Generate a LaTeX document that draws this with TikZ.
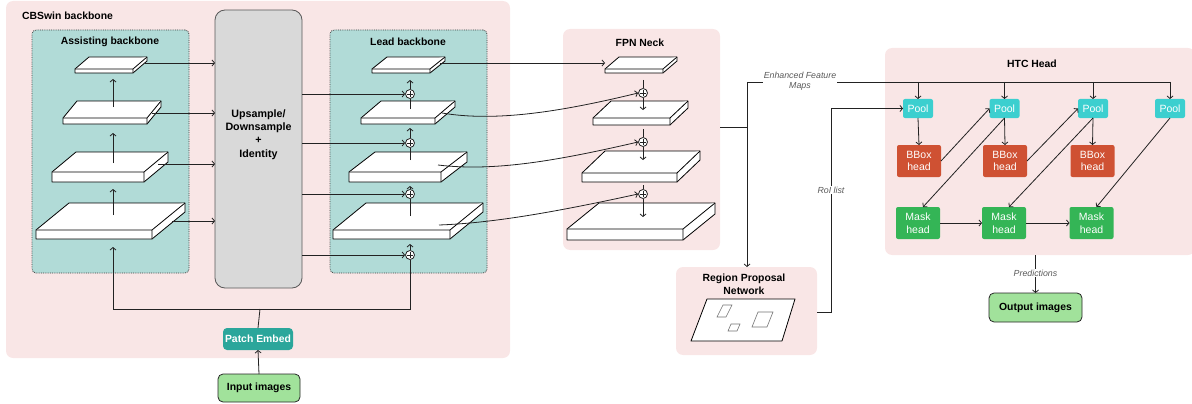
\documentclass[tikz,border=0pt]{standalone}
\usepackage{fontspec}
\setmainfont{Liberation Sans}
\usetikzlibrary{arrows.meta}
\definecolor{pinkbg}{HTML}{F9E6E6}
\definecolor{tealbg}{HTML}{B1DBD7}
\definecolor{graybg}{HTML}{D9D9D9}
\definecolor{patchc}{HTML}{2BA69B}
\definecolor{greenbg}{HTML}{A1E29B}
\definecolor{poolc}{HTML}{3CCFCF}
\definecolor{bboxc}{HTML}{CF5133}
\definecolor{maskc}{HTML}{34B556}
\definecolor{linec}{HTML}{222222}
\newcommand{\drawslab}[6]{%
  \filldraw[slab] (#1,#3) -- ({#1+#5},{#3-#6}) -- ({#2+#5},{#3-#6}) -- ({#2+#5},{#3-#6+#4}) -- (#2,{#3+#4}) -- (#1,{#3+#4}) -- cycle;
  \draw[slab] (#1,#3) -- (#2,#3) -- ({#2+#5},{#3-#6}) (#2,#3) -- (#2,{#3+#4});
}
\tikzset{
  slab/.style={fill=white, draw=black, line width=0.8pt, line join=round},
  ttl/.style={font=\fontsize{10.4}{12.7}\selectfont\bfseries, inner sep=0pt, align=center},
  conn/.style={draw=linec, line width=0.8pt},
  arr/.style={conn, -{Straight Barb[length=2.5pt,width=6pt]}},
  pinkbox/.style={fill=pinkbg, rounded corners=7pt, inner sep=0pt, outer sep=0pt},
  tealbox/.style={fill=tealbg, draw=black!75, densely dotted, line width=0.8pt, rounded corners=4pt, inner sep=0pt, outer sep=0pt},
  upsbox/.style={fill=graybg, draw=black!65, line width=0.8pt, rounded corners=10pt, inner sep=0pt, outer sep=0pt},
  patchbox/.style={fill=patchc, rounded corners=4pt, inner sep=0pt, outer sep=0pt, text=white, font=\fontsize{10.4}{12}\selectfont\bfseries},
  iobox/.style={fill=greenbg, draw=black!85, line width=0.8pt, rounded corners=5pt, inner sep=0pt, outer sep=0pt, font=\fontsize{10.4}{12}\selectfont\bfseries},
  poolbox/.style={fill=poolc, rounded corners=2pt, inner sep=0pt, outer sep=0pt, minimum width=30pt, minimum height=19pt, text=white, font=\fontsize{10.5}{12}\selectfont},
  headbox/.style={rounded corners=2pt, inner sep=0pt, outer sep=0pt, minimum width=44pt, minimum height=32pt, text=white, align=center, font=\fontsize{10.5}{12.7}\selectfont},
  plusc/.style={circle, draw=linec, fill=white, line width=0.8pt, minimum size=9pt, inner sep=0pt,
    path picture={\draw[line width=0.7pt] ([xshift=-2.6pt]path picture bounding box.center) -- ([xshift=2.6pt]path picture bounding box.center)
      ([yshift=-2.6pt]path picture bounding box.center) -- ([yshift=2.6pt]path picture bounding box.center);}},
  itl/.style={font=\fontsize{8.8}{10}\selectfont\itshape, text=black!65, fill=white, inner sep=1pt, align=center}
}
\begin{document}
\begin{tikzpicture}[x=1pt,y=-1pt]
\useasboundingbox (0,0) rectangle (1192,404);
% containers
\node[pinkbox, minimum width=504pt, minimum height=357pt] (cbs) at (258,179.5) {};
\node[ttl, anchor=west] (cbst) at (22,16) {CBSwin backbone};
\node[tealbox, minimum width=157pt, minimum height=243pt] (assist) at (110.5,151.5) {};
\node[ttl] (assistt) at (110,42) {Assisting backbone};
\node[upsbox, minimum width=87pt, minimum height=278pt] (ups) at (258.5,149) {};
\node[ttl, font=\fontsize{10.7}{13.2}\selectfont\bfseries] (upst) at (258.5,134.5) {Upsample/\\Downsample\\+\\Identity};
\node[tealbox, minimum width=157pt, minimum height=243pt] (lead) at (408.5,151.5) {};
\node[ttl] (leadt) at (408,42) {Lead backbone};
\node[patchbox, minimum width=70pt, minimum height=22pt] (patch) at (258,339) {Patch Embed};
\node[iobox, minimum width=82pt, minimum height=28pt] (input) at (259,388) {Input images};
\node[pinkbox, minimum width=157pt, minimum height=221pt] (fpn) at (641.5,139.5) {};
\node[ttl] (fpnt) at (640,43) {FPN Neck};
\node[pinkbox, minimum width=141pt, minimum height=88pt] (rpn) at (746.5,311) {};
\node[ttl] (rpnt) at (744,284) {Region Proposal\\Network};
\node[pinkbox, minimum width=310pt, minimum height=207pt] (htc) at (1040,151.5) {};
\node[ttl] (htct) at (1032,64) {HTC Head};
% slabs assisting
\drawslab{75}{133}{69}{4}{14}{12}
\drawslab{63}{147}{118}{6}{14}{17}
\drawslab{52}{144}{172}{10}{24}{20}
\drawslab{36}{152}{230}{9}{33}{27}
% slabs lead
\drawslab{372}{430}{69}{4}{15}{12}
\drawslab{361}{435}{118}{6}{20}{17}
\drawslab{349}{441}{172}{10}{26}{20}
\drawslab{333}{450}{230}{9}{33}{27}
% slabs fpn
\drawslab{605}{663}{69}{4}{14}{12}
\drawslab{593}{670}{118}{7}{18}{17}
\drawslab{582}{677}{173}{9}{23}{22}
\drawslab{567}{683}{229}{11}{32}{26}
% coordinates
\coordinate (a1r) at (145,63);
\coordinate (a2r) at (152,113);
\coordinate (a3r) at (158,164);
\coordinate (a4r) at (172,221);
\coordinate (a1b) at (113,79);
\coordinate (a2c) at (113,107);
\coordinate (a2b) at (113,133);
\coordinate (a3c) at (113,163);
\coordinate (a3b) at (113,189);
\coordinate (a4c) at (113,215);
\coordinate (a4b) at (113,247);
\coordinate (l1b) at (410,80);
\coordinate (l2c) at (410,109);
\coordinate (l2b) at (410,128);
\coordinate (l3c) at (410,160);
\coordinate (l3b) at (410,186);
\coordinate (l4c) at (410,216);
\coordinate (l4b) at (410,244);
\coordinate (l1s) at (440,63);
\coordinate (l2s) at (442,113);
\coordinate (l3s) at (438,165);
\coordinate (l4s) at (439,225);
\coordinate (f1w) at (605,63);
\coordinate (f1c) at (643,80);
\coordinate (f2t) at (643,110);
\coordinate (f2c) at (643,129);
\coordinate (f3t) at (643,160);
\coordinate (f3c) at (643,185);
\coordinate (f4t) at (643,217);
\coordinate (j) at (260,309);
% plus nodes
\node[plusc] (lp1) at (410,94) {};
\node[plusc] (lp2) at (410,143) {};
\node[plusc] (lp3) at (410,194) {};
\node[plusc] (lp4) at (410,255) {};
\node[plusc] (fp1) at (643,93) {};
\node[plusc] (fp2) at (643,142) {};
\node[plusc] (fp3) at (643,194) {};
% assisting connectors
\draw[arr] (a2c) -- (a1b);
\draw[arr] (a3c) -- (a2b);
\draw[arr] (a4c) -- (a3b);
\draw[arr] (a1r) -- (a1r -| ups.west);
\draw[arr] (a2r) -- (a2r -| ups.west);
\draw[arr] (a3r) -- (a3r -| ups.west);
\draw[arr] (a4r) -- (a4r -| ups.west);
% upsample to pluses
\draw[arr] (lp1 -| ups.east) -- (lp1.west);
\draw[arr] (lp2 -| ups.east) -- (lp2.west);
\draw[arr] (lp3 -| ups.east) -- (lp3.west);
\draw[arr] (lp4 -| ups.east) -- (lp4.west);
% lead verticals
\draw[conn] (l2c) -- (lp1.south);
\draw[arr] (lp1.north) -- (l1b);
\draw[conn] (l3c) -- (lp2.south);
\draw[arr] (lp2.north) -- (l2b);
\draw[conn] (l4c) -- (lp3.south);
\draw[arr] (lp3.north) -- (l3b);
\draw[arr] (lp4.north) -- (l4b);
% bottom
\draw[conn] (patch.north) -- (j);
\draw[arr] (j) -| (a4b);
\draw[conn] (j) -| (lp4.south);
\draw[arr] (input.north) -- (patch.south);
% lead to fpn
\draw[arr] (l1s) -- (f1w);
\draw[arr] (l2s) .. controls (495,122) and (560,112) .. (fp1.west);
\draw[arr] (l3s) .. controls (495,172) and (560,160) .. (fp2.west);
\draw[arr] (l4s) .. controls (495,223) and (560,211) .. (fp3.west);
% fpn verticals
\draw[conn] (f1c) -- (fp1.north);
\draw[arr] (fp1.south) -- (f2t);
\draw[conn] (f2c) -- (fp2.north);
\draw[arr] (fp2.south) -- (f3t);
\draw[conn] (f3c) -- (fp3.north);
\draw[arr] (fp3.south) -- (f4t);
% rpn drawing
\draw[slab] (691,341) -- (782,341) -- (795,299) -- (707,299) -- cycle;
\draw[draw=black!55, line width=0.6pt] (717,317) -- (726,317) -- (732,305) -- (723,305) -- cycle;
\draw[draw=black!55, line width=0.6pt] (728,331) -- (737,331) -- (740,324) -- (731,324) -- cycle;
\draw[draw=black!55, line width=0.6pt] (752,327) -- (767,327) -- (773,312) -- (758,312) -- cycle;
% HTC nodes
\node[poolbox] (p1) at (918,108.5) {Pool};
\node[poolbox] (p2) at (1004.5,108.5) {Pool};
\node[poolbox] (p3) at (1093,108.5) {Pool};
\node[poolbox] (p4) at (1170,108.5) {Pool};
\node[headbox, fill=bboxc] (b1) at (919,161) {BBox\\head};
\node[headbox, fill=bboxc] (b2) at (1005,161) {BBox\\head};
\node[headbox, fill=bboxc] (b3) at (1092.5,161) {BBox\\head};
\node[headbox, fill=maskc] (m1) at (918,223) {Mask\\head};
\node[headbox, fill=maskc] (m2) at (1004,223) {Mask\\head};
\node[headbox, fill=maskc] (m3) at (1091.5,223) {Mask\\head};
\node[iobox, minimum width=93pt, minimum height=29pt] (output) at (1035.5,307.5) {Output images};
% enhanced feature maps
\coordinate (e1) at (747,127);
\coordinate (etop) at (747,82);
\draw[conn] (e1 -| fpn.east) -- (e1);
\draw[arr] (etop) -- (rpn.north -| etop);
\draw[conn] (etop) -- (p4.north |- etop);
\draw[arr] (p1.north |- etop) -- (p1.north);
\draw[arr] (p2.north |- etop) -- (p2.north);
\draw[arr] (p3.north |- etop) -- (p3.north);
\draw[arr] (p4.north |- etop) -- (p4.north);
\node[itl] (efm) at (800,81) {Enhanced Feature\\Maps};
% RoI list
\coordinate (r1) at (831,312);
\draw[arr] (r1 -| rpn.east) -- (r1) |- (p1.west);
\node[itl] (roi) at (831,190) {RoI list};
% HTC arrows
\draw[arr] (p1.south) -- (b1.north);
\draw[arr] (p2.south) -- (b2.north);
\draw[arr] (p3.south) -- (b3.north);
\draw[arr] (b1.east) -- (p2.west);
\draw[arr] (b2.east) -- (p3.west);
\draw[arr] (p2.south) -- ([xshift=5pt]m1.north);
\draw[arr] (p3.south) -- ([xshift=5pt]m2.north);
\draw[arr] (p4.south) -- ([xshift=5pt]m3.north);
\draw[arr] (m1.east) -- (m2.west);
\draw[arr] (m2.east) -- (m3.west);
% output
\draw[arr] (htc.south -| output.north) -- (output.north);
\node[itl] (pred) at (1035.5,273) {Predictions};
\end{tikzpicture}
\end{document}
